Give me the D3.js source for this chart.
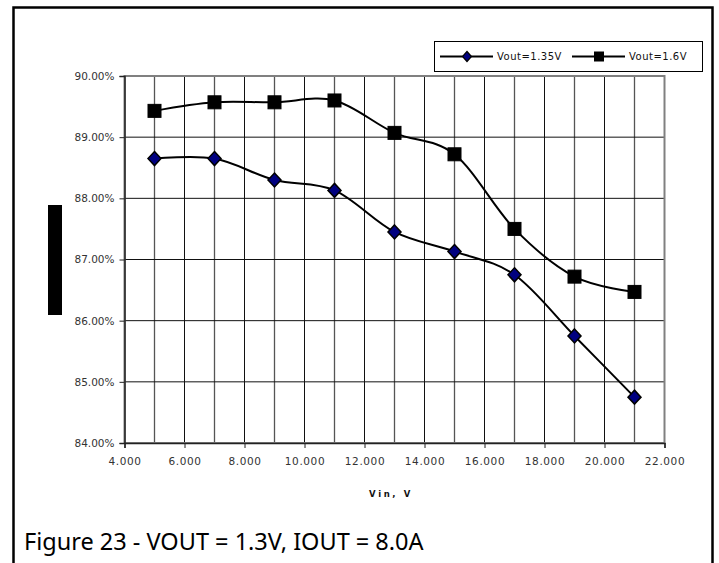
<!DOCTYPE html>
<html>
<head>
<meta charset="utf-8">
<script src="https://cdn.jsdelivr.net/npm/d3@7"></script>
<style>
  body { margin: 0; background: #fff; }
  svg { display: block; }
</style>
</head>
<body>
<svg id="chart" width="719" height="563"></svg>
<script>
// input voltage (V) at each measurement
const vin = [5, 7, 9, 11, 13, 15, 17, 19, 21];
// efficiency (%) per output voltage
const eff135 = [88.65, 88.65, 88.30, 88.13, 87.45, 87.13, 86.75, 85.75, 84.75];
const eff16 = [89.43, 89.57, 89.57, 89.60, 89.07, 88.72, 87.50, 86.72, 86.47];
const seriesNames = ["Vout=1.35V", "Vout=1.6V"];
const xTicks = [4, 6, 8, 10, 12, 14, 16, 18, 20, 22];
const yTicks = [84, 85, 86, 87, 88, 89, 90];
const xTitle = "Vin, V";
const caption = "Figure 23 - VOUT = 1.3V, IOUT = 8.0A";

const svg = d3.select("#chart");
const m = { left: 124.5, right: 664.5, top: 76, bottom: 443 };

const x = d3.scaleLinear().domain([4, 22]).range([m.left, m.right]);
const y = d3.scaleLinear().domain([84, 90]).range([m.bottom, m.top]);

// outer frame
svg.append("rect")
    .attr("x", 13.5).attr("y", 7.5)
    .attr("width", 699).attr("height", 570)
    .attr("fill", "none").attr("stroke", "#000").attr("stroke-width", 2.5);

const g = svg.append("g");

// vertical grid every 1 V
g.selectAll(".vgrid")
    .data(d3.range(5, 22))
    .join("line")
    .attr("x1", d => x(d)).attr("x2", d => x(d))
    .attr("y1", m.top).attr("y2", m.bottom)
    .attr("stroke", d => d % 2 ? "#555" : "#111")
    .attr("stroke-width", d => d % 2 ? 1.3 : 1);

// horizontal grid
g.selectAll(".hgrid")
    .data(yTicks.slice(1, -1))
    .join("line")
    .attr("x1", m.left).attr("x2", m.right)
    .attr("y1", d => y(d)).attr("y2", d => y(d))
    .attr("stroke", "#111").attr("stroke-width", 1);

// plot area border
g.append("rect")
    .attr("x", m.left).attr("y", m.top)
    .attr("width", m.right - m.left).attr("height", m.bottom - m.top)
    .attr("fill", "none").attr("stroke", "#808080").attr("stroke-width", 2);

// axes
const xAxis = svg.append("g")
    .attr("transform", `translate(0,${m.bottom})`)
    .call(d3.axisBottom(x).tickValues(xTicks).tickFormat(d3.format(".3f")).tickSize(5).tickPadding(10));
const yAxis = svg.append("g")
    .attr("transform", `translate(${m.left},0)`)
    .call(d3.axisLeft(y).tickValues(yTicks).tickFormat(d => d.toFixed(2) + "%").tickSize(5).tickPadding(5));

[xAxis, yAxis].forEach(a => {
    a.select(".domain").attr("stroke", "#222").attr("stroke-width", 1.5);
    a.selectAll(".tick line").attr("stroke", "#222");
    a.selectAll("text")
        .attr("fill", "#333")
        .style("font-family", "DejaVu Sans")
        .style("font-size", "10.5px");
});
xAxis.selectAll("text").style("letter-spacing", "0.6px");

// axis title
svg.append("text")
    .attr("x", 391).attr("y", 497)
    .attr("text-anchor", "middle")
    .style("font-family", "DejaVu Sans")
    .style("font-size", "8.5px")
    .style("font-weight", "bold")
    .style("letter-spacing", "2.6px")
    .attr("fill", "#111")
    .text(xTitle);

// y title rendered as solid block in the original
svg.append("rect")
    .attr("x", 48).attr("y", 205)
    .attr("width", 14).attr("height", 110)
    .attr("fill", "#000");

// lines
const line = d3.line()
    .x((d, i) => x(vin[i]))
    .y(d => y(d))
    .curve(d3.curveCatmullRom.alpha(0));

[eff135, eff16].forEach(s => {
    g.append("path")
        .attr("d", line(s))
        .attr("fill", "none")
        .attr("stroke", "#000")
        .attr("stroke-width", 2);
});

const diamond = (sel, cx, cy) => sel.append("path")
    .attr("d", `M${cx},${cy - 7}L${cx + 6.5},${cy}L${cx},${cy + 7}L${cx - 6.5},${cy}Z`)
    .attr("fill", "#000080").attr("stroke", "#000").attr("stroke-width", 1.5);
const square = (sel, cx, cy) => sel.append("rect")
    .attr("x", cx - 6.5).attr("y", cy - 6.5)
    .attr("width", 13).attr("height", 13)
    .attr("fill", "#000").attr("stroke", "#000").attr("stroke-width", 1);

eff135.forEach((d, i) => diamond(g, x(vin[i]), y(d)));
eff16.forEach((d, i) => square(g, x(vin[i]), y(d)));

// legend
const lg = svg.append("g");
lg.append("rect")
    .attr("x", 434.5).attr("y", 41.5)
    .attr("width", 268).attr("height", 30)
    .attr("fill", "#fff").attr("stroke", "#000").attr("stroke-width", 1);
const items = [
    { name: seriesNames[0], x0: 440, mark: diamond },
    { name: seriesNames[1], x0: 572, mark: square }
];
items.forEach(it => {
    lg.append("line")
        .attr("x1", it.x0).attr("x2", it.x0 + 53)
        .attr("y1", 56.5).attr("y2", 56.5)
        .attr("stroke", "#000").attr("stroke-width", 2);
    if (it.mark === diamond) {
        lg.append("path")
            .attr("d", `M${it.x0 + 27},${56.5 - 5}L${it.x0 + 31.5},56.5L${it.x0 + 27},${56.5 + 5}L${it.x0 + 22.5},56.5Z`)
            .attr("fill", "#000080").attr("stroke", "#000").attr("stroke-width", 1.2);
    } else {
        lg.append("rect")
            .attr("x", it.x0 + 22).attr("y", 51.5)
            .attr("width", 10).attr("height", 10)
            .attr("fill", "#000");
    }
    lg.append("text")
        .attr("x", it.x0 + 57).attr("y", 60)
        .style("font-family", "DejaVu Sans")
        .style("font-size", "10px")
        .style("letter-spacing", "0.5px")
        .attr("fill", "#111")
        .text(it.name);
});

// caption
svg.append("text")
    .attr("x", 24).attr("y", 550)
    .style("font-family", "Noto Sans")
    .style("font-size", "23.5px")
    .attr("fill", "#000")
    .text(caption);
</script>
</body>
</html>
